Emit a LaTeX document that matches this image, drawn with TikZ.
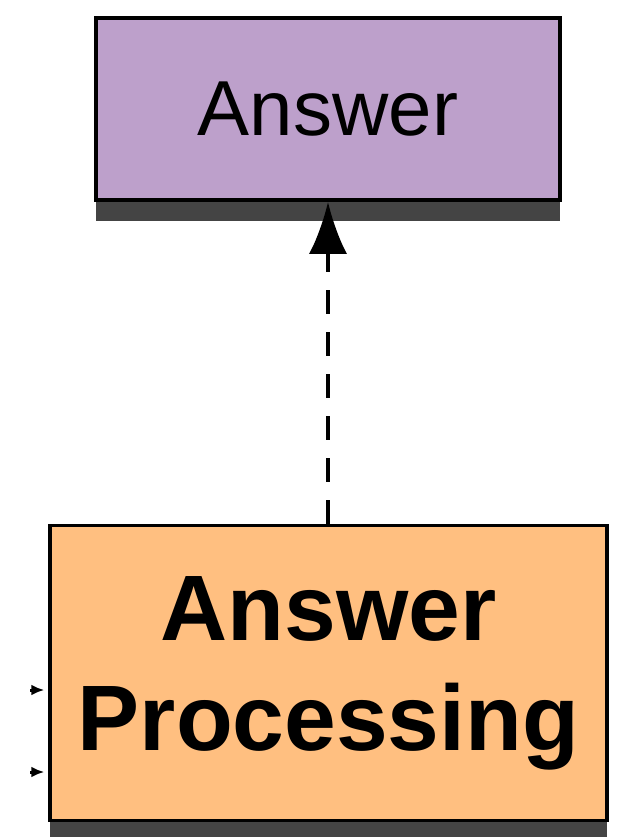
\documentclass[tikz,border=0pt]{standalone}
\usepackage{fontspec}
\setmainfont{Liberation Sans}
\usetikzlibrary{arrows.meta,shadows}

\definecolor{answerpurple}{RGB}{189,160,203}
\definecolor{procorange}{RGB}{255,191,128}
\definecolor{shadowgray}{RGB}{68,68,68}

\tikzset{
  stagebox/.style={rectangle, draw=black, line width=3.5pt, inner sep=0pt,
    drop shadow={shadow xshift=0pt, shadow yshift=-21pt, fill=shadowgray, opacity=1}},
  flow/.style={line width=4pt, dash pattern=on 24pt off 18pt,
    -{Latex[length=52pt,width=38pt]}},
  feed/.style={line width=3pt, shorten >=4pt, -{Latex[length=13pt,width=11pt]}}
}

\begin{document}
\begin{tikzpicture}[x=1pt,y=-1pt]
                        \useasboundingbox[fill=white] (0,0) rectangle (616,837);
                        \clip (0,0) rectangle (616,837);

                        % Nodes
                        \node[stagebox, fill=answerpurple, minimum width=464pt, minimum height=182pt,
                              font=\fontsize{78}{94}\selectfont] (ans) at (328,109) {Answer};
                        \node[stagebox, fill=procorange, minimum width=557pt, minimum height=295pt,
                              align=center, font=\fontsize{93}{110}\selectfont\bfseries] (proc) at (328.5,673)
                              {Answer\\Processing};
                        \coordinate (in1) at (30,690);
                        \coordinate (in2) at (30,772);

                        % Edges
                        \draw[flow] (proc.north -| ans.south) -- (ans.south);
                        \draw[feed] (in1) -- (proc.west |- in1);
                        \draw[feed] (in2) -- (proc.west |- in2);
                    \end{tikzpicture}
\end{document}
